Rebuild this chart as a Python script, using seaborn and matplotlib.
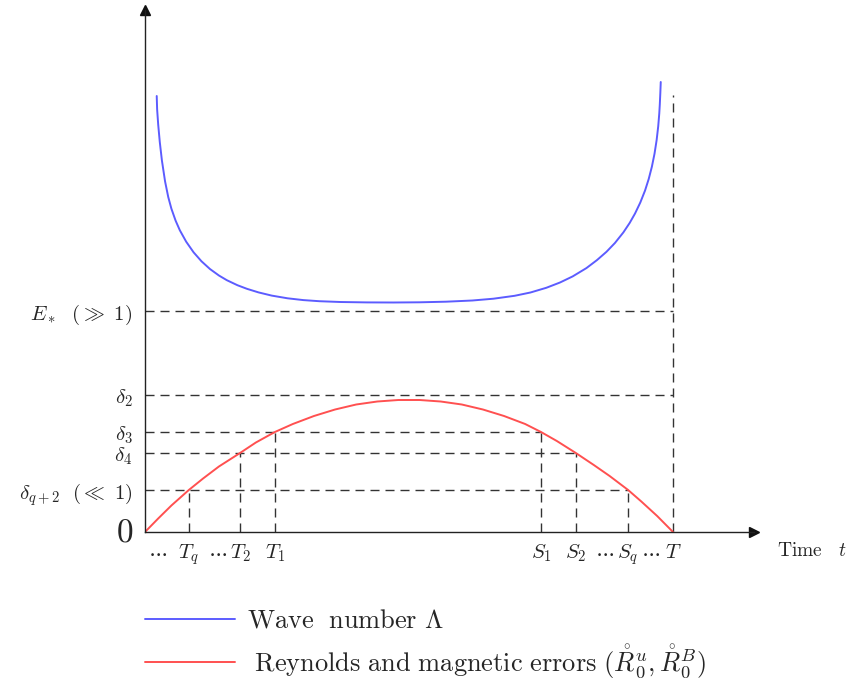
import numpy as np
import pandas as pd
import matplotlib
matplotlib.use("Agg")
import matplotlib.pyplot as plt
import seaborn as sns

# curve samples (time as fraction of T)
wave_t = [0.0222, 0.023, 0.025, 0.028, 0.032, 0.038, 0.044, 0.050, 0.058, 0.066,
          0.078, 0.092, 0.107, 0.123, 0.140, 0.155, 0.175, 0.193, 0.215, 0.240,
          0.270, 0.300, 0.330, 0.370, 0.420, 0.470, 0.520, 0.570, 0.620, 0.660,
          0.700, 0.730, 0.760, 0.786, 0.810, 0.836, 0.856, 0.874, 0.890, 0.906,
          0.918, 0.928, 0.938, 0.947, 0.954, 0.960, 0.965, 0.969, 0.972, 0.974,
          0.975, 0.976, 0.9768]
wave_val = [436, 422.4, 407.4, 390, 371.6, 350.6, 335, 323.3, 311.3, 301.7,
            290.3, 279.7, 270.7, 263, 256.5, 251.8, 246.8, 243.2, 239.6, 236.4,
            233.7, 231.9, 230.8, 230.0, 229.6, 229.5, 229.7, 230.3, 231.5, 233.3,
            236.2, 239.5, 244.2, 249.5, 255.6, 263.9, 271.9, 280.2, 289, 299.6,
            309.1, 318.4, 329.4, 341.4, 353, 365.3, 378.3, 391.9, 405.7, 418.5,
            427.5, 439, 450]

err_t = [0.0, 0.025, 0.05, 0.083, 0.11, 0.14, 0.18, 0.21, 0.246, 0.28, 0.32,
         0.36, 0.40, 0.44, 0.48, 0.50, 0.52, 0.56, 0.60, 0.64, 0.68, 0.72,
         0.75, 0.78, 0.816, 0.85, 0.88, 0.915, 0.94, 0.97, 1.0]
err_val = [0, 13.5, 26.5, 42, 53.5, 65.5, 79, 89.5, 100, 108, 116,
           122.5, 127.5, 130.5, 132, 132, 132, 130.5, 127.5, 122.5, 116, 108,
           100, 91, 79, 67, 56, 42, 30.5, 16, 0]

# levels on the vertical axis
level_names = [r"$\delta_{q+2}\ \ (\ll\ 1)$", r"$\delta_4$", r"$\delta_3$",
               r"$\delta_2$", r"$E_*\ \ (\gg\ 1)$"]
level_vals = [42, 79, 100, 137, 221]

# marked times
time_names = [r"$T_q$", r"$T_2$", r"$T_1$", r"$S_1$", r"$S_2$", r"$S_q$", r"$T$"]
time_vals = [0.083, 0.180, 0.246, 0.750, 0.816, 0.915, 1.0]
dots_vals = [0.023, 0.138, 0.871, 0.958]
T_line_top = 437

sns.set_theme(style="white")
plt.rcParams["mathtext.fontset"] = "cm"
plt.rcParams["font.family"] = ["DejaVu Serif"]

fig = plt.figure(figsize=(8.48, 6.83), dpi=100)
ax = fig.add_axes([145 / 848, 151 / 683, 609 / 848, 522 / 683])

wave = pd.DataFrame({"t": wave_t, "v": wave_val})
err = pd.DataFrame({"t": err_t, "v": err_val})
sns.lineplot(data=wave, x="t", y="v", color="#5c5cff", lw=1.4, sort=False,
             label=r"$\mathrm{Wave\ \ number}\ \Lambda$", ax=ax)
sns.lineplot(data=err, x="t", y="v", color="#ff5050", lw=1.4, sort=False,
             label=r"$\ \mathrm{Reynolds\ and\ magnetic\ errors}\ (\mathring{R}_0^u, \mathring{R}_0^B)$",
             ax=ax)

dash = dict(color="#333333", lw=1.0, dashes=(6.5, 4.3), zorder=1)
# horizontal guides run to the last crossing time
h_ends = [time_vals[5], time_vals[4], time_vals[3], time_vals[6], time_vals[6]]
for lv, xe in zip(level_vals, h_ends):
    ax.plot([0, xe], [lv, lv], **dash)
# vertical guides drop from the crossings
v_tops = [42, 79, 100, 100, 79, 42, T_line_top]
for tv, top in zip(time_vals, v_tops):
    ax.plot([tv, tv], [0, top], **dash)

ax.set_xlim(0, 609 / 528)
ax.set_ylim(0, 522)

for side in ["top", "right"]:
    ax.spines[side].set_visible(False)
for side in ["left", "bottom"]:
    ax.spines[side].set_color("#222222")
    ax.spines[side].set_linewidth(1.0)
ax.plot(1, 0, ">", color="#111111", ms=7, transform=ax.transAxes, clip_on=False)
ax.plot(0, 1, "^", color="#111111", ms=7, transform=ax.transAxes, clip_on=False)

ax.set_yticks(level_vals, level_names)
ax.set_xticks(time_vals, time_names)
ax.set_xticks(dots_vals, [r"$\cdots$"] * len(dots_vals), minor=True)
ax.tick_params(axis="y", direction="in", length=7, width=0.9, color="#222222",
               labelsize=15, pad=9)
ax.tick_params(axis="x", which="major", direction="in", length=7, width=0.9,
               color="#222222", labelsize=15, pad=19)
ax.tick_params(axis="x", which="minor", length=0, labelsize=15, pad=19)
for tk in ax.xaxis.get_major_ticks() + ax.xaxis.get_minor_ticks():
    tk.label1.set_va("baseline")

ax.text(-0.02, 0, "$0$", fontsize=24, ha="right", va="center",
        transform=ax.get_yaxis_transform())
ax.set_xlabel(r"$\mathrm{Time}\ \ \ t$", fontsize=14)
ax.xaxis.set_label_coords(1.095, -0.02)
ax.set_ylabel("")

ax.legend(loc="upper left", bbox_to_anchor=(145 / 848, 1 - 608 / 683),
          bbox_transform=fig.transFigure, frameon=False, fontsize=19,
          handlelength=3.4, handletextpad=0.45, labelspacing=0.35,
          borderpad=0, borderaxespad=0)

fig.savefig("out.png", dpi=100)
